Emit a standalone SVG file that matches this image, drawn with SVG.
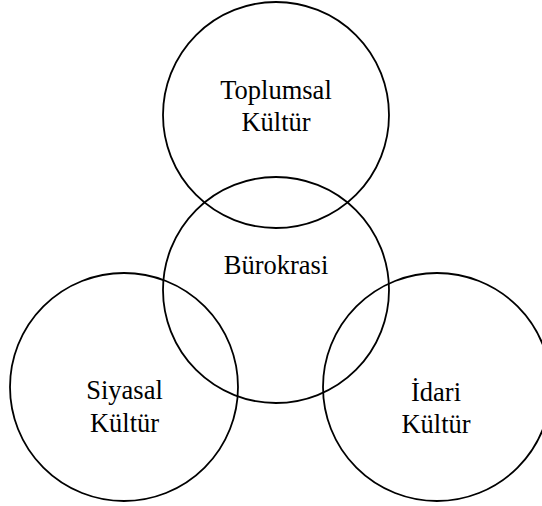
<svg xmlns="http://www.w3.org/2000/svg" width="542" height="506" viewBox="0 0 542 506">
<style>
.c{fill:none;stroke:#000;stroke-width:1.8}
text{font-family:'Liberation Serif','Times New Roman',serif;font-size:26.5px;fill:#000;text-anchor:middle}
</style>
<rect width="542" height="506" fill="#fff"/>
<g id="toplumsal"><circle class="c" cx="276" cy="115" r="113"/><text x="276" y="99">Toplumsal</text><text x="276" y="131">Kültür</text></g>
<g id="burokrasi"><circle class="c" cx="276" cy="290" r="113"/><text x="276" y="274">Bürokrasi</text></g>
<g id="siyasal"><circle class="c" cx="124" cy="387" r="114"/><text x="124.5" y="399">Siyasal</text><text x="124.5" y="432">Kültür</text></g>
<g id="idari"><circle class="c" cx="437" cy="387" r="114"/><text x="436" y="401">İdari</text><text x="436" y="433">Kültür</text></g>
<g id="connectors"/>
</svg>
